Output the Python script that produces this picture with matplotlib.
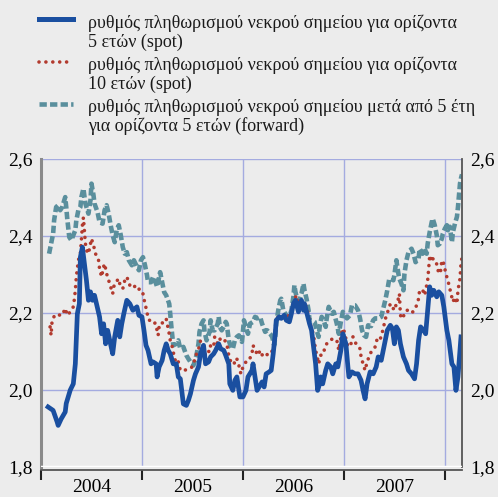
import matplotlib
matplotlib.use("Agg")
import matplotlib.pyplot as plt
from matplotlib.lines import Line2D

plt.rcParams['font.family'] = ['Liberation Serif', 'DejaVu Serif']

# 5-year spot (blue)
t_spot5 = [2004.07, 2004.12, 2004.16, 2004.17, 2004.20, 2004.24, 2004.25, 2004.29, 2004.32, 2004.34,
           2004.36, 2004.38, 2004.39, 2004.41, 2004.43, 2004.45, 2004.47, 2004.49, 2004.51, 2004.53,
           2004.55, 2004.58, 2004.60, 2004.62, 2004.64, 2004.66, 2004.68, 2004.71, 2004.73, 2004.76,
           2004.78, 2004.80, 2004.82, 2004.85, 2004.88, 2004.91, 2004.95, 2004.97, 2005.00, 2005.02,
           2005.04, 2005.06, 2005.09, 2005.11, 2005.14, 2005.15, 2005.17, 2005.20, 2005.22, 2005.24,
           2005.26, 2005.28, 2005.31, 2005.34, 2005.36, 2005.38, 2005.41, 2005.44, 2005.46, 2005.48,
           2005.51, 2005.53, 2005.56, 2005.58, 2005.61, 2005.63, 2005.66, 2005.68, 2005.71, 2005.73,
           2005.76, 2005.78, 2005.81, 2005.83, 2005.86, 2005.87, 2005.90, 2005.92, 2005.94, 2005.97,
           2006.00, 2006.03, 2006.05, 2006.09, 2006.10, 2006.12, 2006.14, 2006.16, 2006.19, 2006.21,
           2006.23, 2006.26, 2006.28, 2006.30, 2006.32, 2006.33, 2006.36, 2006.38, 2006.41, 2006.43,
           2006.46, 2006.48, 2006.50, 2006.52, 2006.55, 2006.56, 2006.58, 2006.60, 2006.61, 2006.63,
           2006.66, 2006.68, 2006.70, 2006.72, 2006.74, 2006.76, 2006.77, 2006.79, 2006.82, 2006.84,
           2006.87, 2006.89, 2006.92, 2006.94, 2006.97, 2006.99, 2007.02, 2007.04, 2007.05, 2007.08,
           2007.11, 2007.14, 2007.17, 2007.19, 2007.21, 2007.23, 2007.26, 2007.29, 2007.32, 2007.34,
           2007.37, 2007.39, 2007.41, 2007.43, 2007.46, 2007.48, 2007.50, 2007.52, 2007.54, 2007.56,
           2007.59, 2007.62, 2007.64, 2007.67, 2007.70, 2007.72, 2007.74, 2007.76, 2007.79, 2007.81,
           2007.83, 2007.85, 2007.87, 2007.89, 2007.92, 2007.94, 2007.97, 2007.99, 2008.02, 2008.04,
           2008.07, 2008.09, 2008.11, 2008.13, 2008.16]
spot5 = [1.956, 1.947, 1.917, 1.908, 1.925, 1.943, 1.965, 2.000, 2.016, 2.068,
         2.198, 2.224, 2.345, 2.371, 2.328, 2.285, 2.233, 2.255, 2.233, 2.246,
         2.224, 2.190, 2.146, 2.172, 2.120, 2.155, 2.130, 2.094, 2.138, 2.181,
         2.138, 2.172, 2.198, 2.233, 2.224, 2.207, 2.216, 2.194, 2.190, 2.155,
         2.116, 2.103, 2.068, 2.073, 2.068, 2.034, 2.060, 2.077, 2.103, 2.120,
         2.103, 2.094, 2.068, 2.068, 2.034, 2.029, 1.964, 1.960, 1.973, 1.990,
         2.025, 2.042, 2.060, 2.094, 2.116, 2.068, 2.073, 2.086, 2.094, 2.103,
         2.120, 2.107, 2.103, 2.090, 2.068, 2.016, 1.999, 2.025, 2.034, 1.982,
         1.982, 1.999, 2.034, 2.051, 2.068, 2.034, 1.999, 2.008, 2.021, 2.008,
         2.042, 2.047, 2.051, 2.094, 2.146, 2.181, 2.190, 2.186, 2.194, 2.181,
         2.177, 2.198, 2.224, 2.233, 2.203, 2.224, 2.233, 2.207, 2.224, 2.203,
         2.172, 2.155, 2.112, 2.068, 1.999, 2.016, 2.034, 2.016, 2.051, 2.068,
         2.060, 2.042, 2.068, 2.060, 2.103, 2.146, 2.120, 2.060, 2.034, 2.047,
         2.042, 2.042, 2.025, 1.999, 1.977, 2.016, 2.047, 2.042, 2.060, 2.086,
         2.077, 2.103, 2.129, 2.155, 2.168, 2.160, 2.120, 2.164, 2.155, 2.120,
         2.086, 2.068, 2.051, 2.042, 2.029, 2.068, 2.129, 2.164, 2.155, 2.146,
         2.207, 2.268, 2.246, 2.259, 2.242, 2.255, 2.246, 2.216, 2.155, 2.129,
         2.068, 2.060, 1.999, 2.034, 2.138]

# 10-year spot (red dotted)
t_spot10 = [2004.09, 2004.10, 2004.11, 2004.14, 2004.17, 2004.21, 2004.24, 2004.26, 2004.29, 2004.32,
            2004.33, 2004.34, 2004.35, 2004.37, 2004.39, 2004.40, 2004.41, 2004.42, 2004.44, 2004.45,
            2004.47, 2004.50, 2004.52, 2004.54, 2004.57, 2004.58, 2004.60, 2004.62, 2004.63, 2004.65,
            2004.67, 2004.69, 2004.71, 2004.72, 2004.74, 2004.77, 2004.78, 2004.81, 2004.83, 2004.85,
            2004.88, 2004.91, 2004.93, 2004.95, 2004.98, 2005.01, 2005.03, 2005.05, 2005.06, 2005.11,
            2005.13, 2005.15, 2005.16, 2005.17, 2005.19, 2005.21, 2005.24, 2005.25, 2005.27, 2005.28,
            2005.30, 2005.32, 2005.34, 2005.36, 2005.38, 2005.40, 2005.43, 2005.46, 2005.49, 2005.51,
            2005.53, 2005.55, 2005.57, 2005.58, 2005.61, 2005.62, 2005.64, 2005.67, 2005.68, 2005.71,
            2005.72, 2005.75, 2005.77, 2005.80, 2005.82, 2005.84, 2005.86, 2005.88, 2005.90, 2005.92,
            2005.94, 2005.96, 2005.98, 2006.00, 2006.03, 2006.05, 2006.06, 2006.09, 2006.10, 2006.13,
            2006.15, 2006.17, 2006.20, 2006.23, 2006.25, 2006.28, 2006.30, 2006.32, 2006.33, 2006.35,
            2006.37, 2006.40, 2006.43, 2006.46, 2006.48, 2006.50, 2006.51, 2006.53, 2006.55, 2006.56,
            2006.59, 2006.61, 2006.63, 2006.65, 2006.66, 2006.68, 2006.70, 2006.72, 2006.74, 2006.75,
            2006.77, 2006.80, 2006.81, 2006.83, 2006.86, 2006.89, 2006.91, 2006.93, 2006.95, 2006.97,
            2006.99, 2007.00, 2007.02, 2007.04, 2007.07, 2007.09, 2007.12, 2007.14, 2007.16, 2007.17,
            2007.19, 2007.21, 2007.23, 2007.26, 2007.28, 2007.31, 2007.33, 2007.35, 2007.37, 2007.39,
            2007.41, 2007.42, 2007.44, 2007.46, 2007.47, 2007.50, 2007.52, 2007.54, 2007.55, 2007.56,
            2007.58, 2007.60, 2007.62, 2007.64, 2007.67, 2007.70, 2007.72, 2007.74, 2007.75, 2007.78,
            2007.80, 2007.83, 2007.84, 2007.85, 2007.87, 2007.88, 2007.91, 2007.93, 2007.94, 2007.96,
            2007.97, 2007.99, 2008.01, 2008.03, 2008.05, 2008.07, 2008.08, 2008.10, 2008.12, 2008.13,
            2008.15, 2008.16, 2008.17]
spot10 = [2.164, 2.142, 2.181, 2.196, 2.195, 2.194, 2.212, 2.194, 2.203, 2.216,
          2.235, 2.259, 2.294, 2.337, 2.354, 2.389, 2.428, 2.448, 2.380, 2.363,
          2.354, 2.393, 2.376, 2.354, 2.337, 2.315, 2.294, 2.320, 2.328, 2.302,
          2.285, 2.268, 2.250, 2.268, 2.280, 2.289, 2.276, 2.263, 2.285, 2.294,
          2.272, 2.276, 2.268, 2.259, 2.263, 2.250, 2.224, 2.203, 2.185, 2.172,
          2.174, 2.155, 2.142, 2.164, 2.164, 2.181, 2.185, 2.172, 2.146, 2.129,
          2.112, 2.086, 2.068, 2.073, 2.051, 2.051, 2.052, 2.055, 2.058, 2.068,
          2.086, 2.103, 2.112, 2.129, 2.112, 2.086, 2.103, 2.099, 2.116, 2.112,
          2.138, 2.120, 2.133, 2.125, 2.129, 2.120, 2.090, 2.073, 2.077, 2.068,
          2.081, 2.064, 2.042, 2.060, 2.073, 2.077, 2.077, 2.094, 2.116, 2.099,
          2.090, 2.103, 2.086, 2.090, 2.094, 2.094, 2.112, 2.138, 2.172, 2.194,
          2.190, 2.186, 2.190, 2.194, 2.203, 2.224, 2.233, 2.246, 2.211, 2.207,
          2.216, 2.224, 2.216, 2.194, 2.177, 2.160, 2.142, 2.103, 2.081, 2.068,
          2.090, 2.094, 2.112, 2.120, 2.129, 2.133, 2.129, 2.129, 2.103, 2.138,
          2.160, 2.155, 2.133, 2.112, 2.120, 2.138, 2.120, 2.116, 2.107, 2.087,
          2.068, 2.051, 2.073, 2.094, 2.103, 2.112, 2.133, 2.129, 2.138, 2.160,
          2.181, 2.194, 2.207, 2.224, 2.220, 2.207, 2.224, 2.237, 2.250, 2.194,
          2.185, 2.198, 2.207, 2.207, 2.200, 2.207, 2.220, 2.237, 2.259, 2.260,
          2.246, 2.285, 2.315, 2.350, 2.333, 2.341, 2.337, 2.315, 2.302, 2.311,
          2.337, 2.328, 2.302, 2.285, 2.263, 2.241, 2.229, 2.241, 2.224, 2.259,
          2.289, 2.328, 2.345]

# 5-year forward in 5 years (teal dashed)
t_fwd = [2004.08, 2004.10, 2004.12, 2004.13, 2004.15, 2004.17, 2004.19, 2004.21, 2004.24, 2004.25,
         2004.26, 2004.28, 2004.30, 2004.32, 2004.34, 2004.35, 2004.37, 2004.39, 2004.40, 2004.42,
         2004.44, 2004.45, 2004.47, 2004.49, 2004.50, 2004.52, 2004.53, 2004.56, 2004.58, 2004.61,
         2004.63, 2004.65, 2004.67, 2004.69, 2004.71, 2004.73, 2004.75, 2004.77, 2004.79, 2004.81,
         2004.83, 2004.85, 2004.87, 2004.90, 2004.92, 2004.95, 2004.97, 2004.99, 2005.01, 2005.03,
         2005.05, 2005.06, 2005.09, 2005.11, 2005.14, 2005.15, 2005.17, 2005.18, 2005.20, 2005.22,
         2005.24, 2005.27, 2005.28, 2005.29, 2005.30, 2005.31, 2005.34, 2005.36, 2005.38, 2005.41,
         2005.44, 2005.46, 2005.48, 2005.51, 2005.52, 2005.54, 2005.56, 2005.57, 2005.59, 2005.61,
         2005.62, 2005.64, 2005.67, 2005.68, 2005.70, 2005.72, 2005.75, 2005.76, 2005.77, 2005.79,
         2005.81, 2005.83, 2005.84, 2005.86, 2005.88, 2005.90, 2005.92, 2005.94, 2005.96, 2005.99,
         2006.00, 2006.01, 2006.03, 2006.05, 2006.07, 2006.10, 2006.12, 2006.14, 2006.17, 2006.19,
         2006.22, 2006.24, 2006.27, 2006.29, 2006.31, 2006.32, 2006.33, 2006.35, 2006.37, 2006.38,
         2006.40, 2006.43, 2006.46, 2006.48, 2006.50, 2006.51, 2006.52, 2006.54, 2006.56, 2006.58,
         2006.60, 2006.61, 2006.63, 2006.65, 2006.66, 2006.69, 2006.71, 2006.73, 2006.75, 2006.76,
         2006.78, 2006.80, 2006.82, 2006.83, 2006.85, 2006.88, 2006.90, 2006.93, 2006.95, 2006.97,
         2006.99, 2007.01, 2007.03, 2007.06, 2007.08, 2007.11, 2007.14, 2007.16, 2007.18, 2007.20,
         2007.22, 2007.24, 2007.27, 2007.29, 2007.31, 2007.34, 2007.37, 2007.39, 2007.41, 2007.43,
         2007.45, 2007.47, 2007.49, 2007.50, 2007.52, 2007.54, 2007.55, 2007.57, 2007.59, 2007.60,
         2007.62, 2007.64, 2007.67, 2007.69, 2007.71, 2007.74, 2007.75, 2007.78, 2007.80, 2007.82,
         2007.83, 2007.85, 2007.87, 2007.88, 2007.90, 2007.92, 2007.93, 2007.95, 2007.97, 2007.98,
         2008.00, 2008.02, 2008.03, 2008.05, 2008.07, 2008.08, 2008.10, 2008.12, 2008.13, 2008.14,
         2008.15, 2008.16, 2008.17]
fwd = [2.354, 2.380, 2.406, 2.441, 2.475, 2.480, 2.467, 2.475, 2.501, 2.475,
       2.445, 2.397, 2.389, 2.402, 2.415, 2.441, 2.467, 2.475, 2.501, 2.523,
       2.484, 2.475, 2.458, 2.493, 2.536, 2.506, 2.484, 2.462, 2.436, 2.432,
       2.467, 2.480, 2.458, 2.428, 2.402, 2.384, 2.415, 2.428, 2.402, 2.371,
       2.354, 2.358, 2.337, 2.324, 2.337, 2.320, 2.311, 2.337, 2.345, 2.324,
       2.298, 2.280, 2.280, 2.294, 2.276, 2.268, 2.294, 2.306, 2.280, 2.254,
       2.246, 2.224, 2.198, 2.168, 2.142, 2.116, 2.120, 2.129, 2.107, 2.112,
       2.090, 2.081, 2.073, 2.064, 2.073, 2.090, 2.120, 2.151, 2.172, 2.181,
       2.151, 2.129, 2.151, 2.181, 2.155, 2.155, 2.172, 2.190, 2.164, 2.155,
       2.164, 2.177, 2.172, 2.129, 2.112, 2.107, 2.129, 2.138, 2.142, 2.125,
       2.151, 2.181, 2.164, 2.146, 2.172, 2.177, 2.190, 2.186, 2.190, 2.172,
       2.151, 2.155, 2.146, 2.138, 2.116, 2.138, 2.172, 2.207, 2.233, 2.237,
       2.207, 2.194, 2.190, 2.207, 2.242, 2.272, 2.255, 2.233, 2.233, 2.250,
       2.276, 2.259, 2.237, 2.207, 2.181, 2.181, 2.177, 2.155, 2.138, 2.164,
       2.190, 2.181, 2.164, 2.186, 2.216, 2.198, 2.203, 2.172, 2.146, 2.177,
       2.203, 2.194, 2.186, 2.194, 2.220, 2.220, 2.207, 2.186, 2.155, 2.142,
       2.138, 2.168, 2.166, 2.181, 2.186, 2.186, 2.190, 2.211, 2.233, 2.259,
       2.289, 2.289, 2.285, 2.298, 2.337, 2.302, 2.289, 2.276, 2.259, 2.302,
       2.337, 2.358, 2.367, 2.354, 2.332, 2.341, 2.367, 2.354, 2.367, 2.354,
       2.380, 2.410, 2.436, 2.445, 2.428, 2.402, 2.376, 2.380, 2.393, 2.406,
       2.419, 2.428, 2.415, 2.424, 2.384, 2.410, 2.432, 2.450, 2.475, 2.506,
       2.536, 2.550, 2.560]

legend_labels = [
    ["ρυθμός πληθωρισμού νεκρού σημείου για ορίζοντα", "5 ετών (spot)"],
    ["ρυθμός πληθωρισμού νεκρού σημείου για ορίζοντα", "10 ετών (spot)"],
    ["ρυθμός πληθωρισμού νεκρού σημείου μετά από 5 έτη", "για ορίζοντα 5 ετών (forward)"],
]
years = [2004, 2005, 2006, 2007]
yticks = [1.8, 2.0, 2.2, 2.4, 2.6]

c_blue = '#1a4fa0'
c_red = '#b23a2e'
c_teal = '#5a8f9d'
bg = '#ececec'
grid_c = '#a4abe0'

W, H = 498, 497
fig = plt.figure(figsize=(W / 100, H / 100), dpi=100, facecolor=bg)
ax = fig.add_axes([41 / W, 1 - 467 / H, 421 / W, 308 / H], facecolor=bg)

red_style = dict(color=c_red, lw=2.6, linestyle=(0, (0.01, 1.9)), dash_capstyle='round')
teal_style = dict(color=c_teal, lw=3.3, linestyle=(0, (1.6, 0.7)))

ax.plot(t_fwd, fwd, **teal_style)
ax.plot(t_spot10, spot10, **red_style)
ax.plot(t_spot5, spot5, color=c_blue, lw=3.4, solid_joinstyle='round')

ax.set_xlim(2004.0, 2008.17)
ax.set_ylim(1.8, 2.6)

# grid
for y in [2.0, 2.2, 2.4, 2.6]:
    ax.axhline(y, color=grid_c, lw=1.0, zorder=0)
for x in [2005, 2006, 2007, 2008]:
    ax.axvline(x, color=grid_c, lw=1.0, zorder=0)
ax.axhline(1.8, color='white', lw=2.5, zorder=5)

ax.set_yticks(yticks)
ax.set_yticklabels([f"{v:.1f}".replace('.', ',') for v in yticks])
ax.tick_params(axis='y', length=0, labelsize=14, left=False, right=False,
               labelleft=True, labelright=True, pad=6)

ax.set_xticks([2004, 2005, 2006, 2007, 2008])
ax.set_xticklabels([])
ax.set_xticks([y + 0.5 for y in years], minor=True)
ax.set_xticklabels([str(y) for y in years], minor=True)
ax.tick_params(axis='x', which='major', direction='out', length=7, width=1.5, color='#222222')
ax.tick_params(axis='x', which='minor', length=0, labelsize=14, pad=7)

ax.spines['top'].set_visible(False)
ax.spines['left'].set_color('#8a8a8a')
ax.spines['left'].set_linewidth(2.2)
ax.spines['right'].set_color('#555555')
ax.spines['right'].set_linewidth(1.3)
ax.spines['bottom'].set_color('#555555')
ax.spines['bottom'].set_linewidth(1.3)
ax.spines['bottom'].set_position(('outward', 2))

# legend drawn by hand
styles = [dict(color=c_blue, lw=3.6), red_style, teal_style]
sample_y = [19, 62, 104]
baselines = [[28, 46.5], [70.5, 89], [112, 130.5]]
for st, sy, lab, bl in zip(styles, sample_y, legend_labels, baselines):
    fig.add_artist(Line2D([39 / W, 73 / W], [1 - sy / H, 1 - sy / H], **st))
    for txt, b in zip(lab, bl):
        fig.text(88 / W, 1 - b / H, txt, fontsize=13, va='baseline', ha='left',
                 color='#1a1a1a')

fig.savefig('out.png', dpi=100, facecolor=bg)
